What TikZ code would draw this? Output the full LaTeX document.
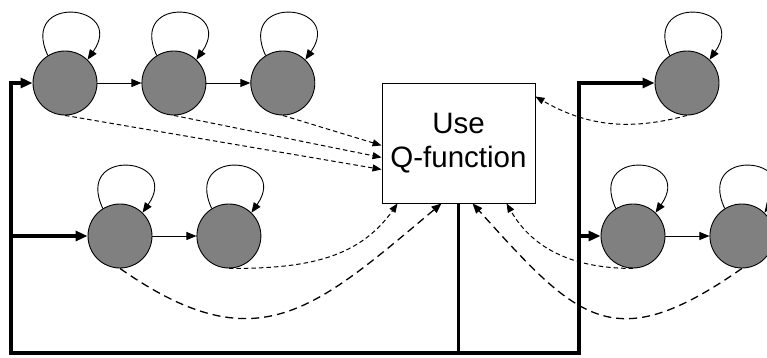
\documentclass[tikz,border=0pt]{standalone}
\usepackage{fontspec}
\setmainfont{Liberation Sans}
\usetikzlibrary{arrows.meta,positioning,calc}
\definecolor{stategray}{RGB}{128,128,128}
\tikzset{
    graycircle/.style={
        circle,
        draw=black,
        line width=0.9pt,
        fill=stategray,
        minimum size=64pt,
        inner sep=0pt
    },
    qbox/.style={
        draw=black,
        line width=0.9pt,
        minimum width=153pt,
        minimum height=120pt,
        align=center,
        font=\fontsize{29.5}{34}\selectfont
    },
    thickline/.style={
        line width=3.2pt,
        black
    },
    thickarrow/.style={
        line width=3.2pt,
        black,
        -{Triangle[length=12pt, width=10pt]}
    },
    % arrows between states and loops
    blackarrow/.style={
        line width=0.9pt,
        black,
        -{Triangle[length=10pt, width=8pt]}
    },
    dashline/.style={
        line width=1pt,
        dash pattern=on 4.5pt off 3pt,
        -{Triangle[length=9pt, width=7pt]}
    },
    longdash/.style={
        line width=1.3pt,
        dash pattern=on 8pt off 5pt,
        -{Triangle[length=10pt, width=8pt]}
    }
}

\begin{document}
\begin{tikzpicture}[x=1pt, y=1pt]
	\clip (0,0) rectangle (767,358);

	\node[qbox] (Q) at (458.5,215) {Use\\Q-function};

	\node[graycircle] (A1) at (65,275) {};
	\node[graycircle, right=44pt of A1] (A2) {};
	\node[graycircle, right=44pt of A2] (A3) {};

	\node[graycircle] (B1) at (120,122) {};
	\node[graycircle, right=44pt of B1] (B2) {};

	\node[graycircle] (C1) at (687,275) {};

	\node[graycircle] (D1) at (633,122) {};
	\node[graycircle, right=44pt of D1] (D2) {};

	\coordinate (bl) at (11,5);
	\coordinate (br) at (579,5);
	\coordinate (bm) at (Q.south |- bl);

	% main flow
	\draw[thickline] (Q.south) -- (bm);
	\draw[thickarrow] (bm) -- (bl) |- (A1);
	\draw[thickarrow] (bl |- B1) -- (B1);
	\draw[thickarrow] (bm) -- (br) |- (C1);
	\draw[thickarrow] (br |- D1) -- (D1);

	\draw[blackarrow] (A1) -- (A2);
	\draw[blackarrow] (A2) -- (A3);
	\draw[blackarrow] (B1) -- (B2);
	\draw[blackarrow] (D1) -- (D2);

	% self loops
	\foreach \s in {A1,A2,A3,B1,B2,C1,D1,D2}
		\draw[blackarrow] (\s.122) to[out=115, in=55, looseness=4.4] (\s.46);

	% use of the Q-function
	\draw[dashline] (A1.south) -- ([yshift=34pt]Q.south west);
	\draw[dashline] (A2.south) -- ([yshift=46pt]Q.south west);
	\draw[dashline] (A3.south) -- ([yshift=58pt]Q.south west);
	\draw[dashline] (B2.south) to[out=0, in=-125] ([xshift=16pt]Q.south west);
	\draw[longdash] (B1.south) to[out=-35, in=-140, looseness=1.3] ([xshift=60pt]Q.south west);
	\draw[longdash] (D2.south) to[out=-145, in=-48, looseness=1.45] ([xshift=91pt]Q.south west);
	\draw[dashline] (D1.south) to[out=180, in=-60] ([xshift=125pt]Q.south west);
	\draw[dashline] (C1.south) to[out=195, in=-30] ([yshift=-14pt]Q.north east);
\end{tikzpicture}
\end{document}
